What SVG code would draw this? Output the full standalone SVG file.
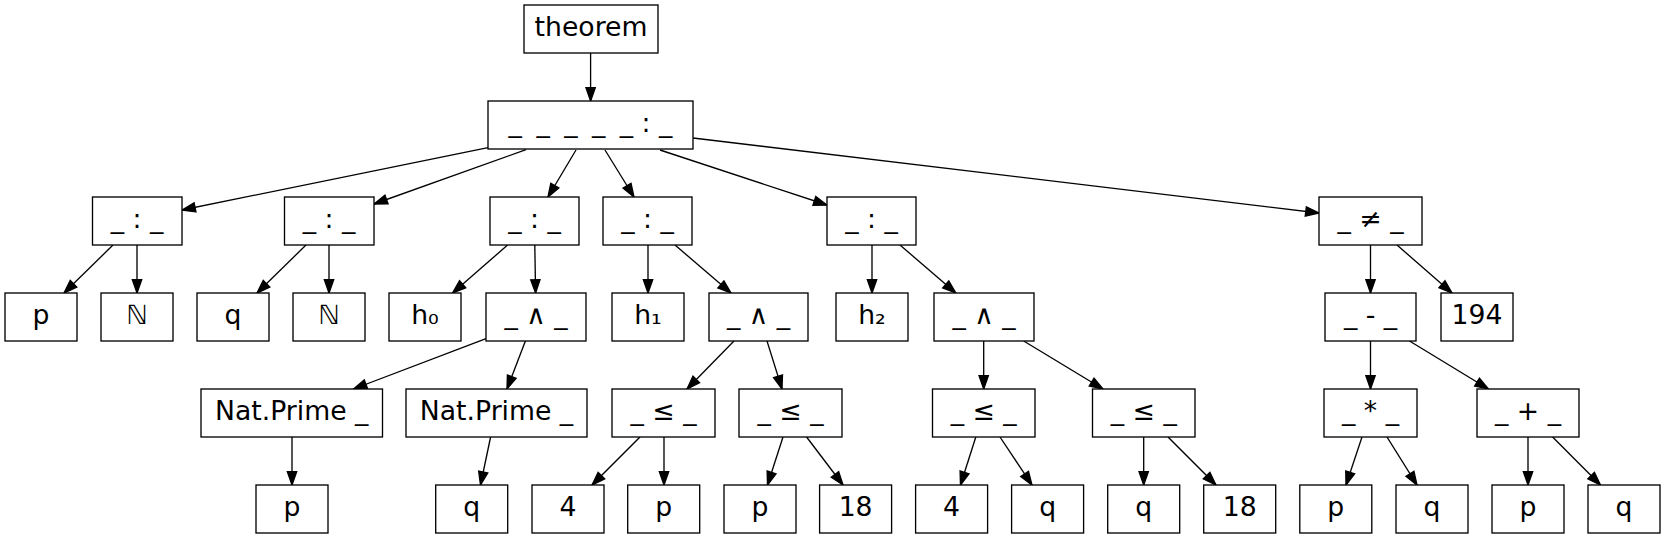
<svg xmlns="http://www.w3.org/2000/svg" width="1665" height="539" viewBox="0 0 1665 539">
<style>
.n rect{fill:#fff;stroke:#000;stroke-width:1.33}
.n text{font-family:"DejaVu Sans",sans-serif;font-size:26.67px;text-anchor:middle;fill:#000}
#edges line{stroke:#000;stroke-width:1.33}
</style>
<defs>
<marker id="ah" markerUnits="userSpaceOnUse" viewBox="0 -6 15 12" markerWidth="15" markerHeight="12" refX="13.3" refY="0" orient="auto" overflow="visible">
<polygon points="0,-4.67 13.3,0 0,4.67" fill="#000" stroke="#000" stroke-width="1.33"/>
</marker>
</defs>
<rect width="1665" height="539" fill="#fff"/>
<g id="edges" marker-end="url(#ah)">
<line x1="590.6" y1="53" x2="590.6" y2="101" marker-end="url(#ah)"/>
<line x1="488" y1="147.7" x2="182" y2="210" marker-end="url(#ah)"/>
<line x1="526" y1="149.7" x2="374" y2="204" marker-end="url(#ah)"/>
<line x1="576" y1="150" x2="548" y2="197" marker-end="url(#ah)"/>
<line x1="605" y1="150" x2="634" y2="197" marker-end="url(#ah)"/>
<line x1="660" y1="150" x2="827" y2="205" marker-end="url(#ah)"/>
<line x1="693" y1="138" x2="1319" y2="213" marker-end="url(#ah)"/>
<line x1="113" y1="245" x2="64" y2="293" marker-end="url(#ah)"/>
<line x1="137" y1="245" x2="137" y2="293" marker-end="url(#ah)"/>
<line x1="306" y1="245" x2="257" y2="293" marker-end="url(#ah)"/>
<line x1="329" y1="245" x2="329" y2="293" marker-end="url(#ah)"/>
<line x1="507.6" y1="245" x2="452.6" y2="293" marker-end="url(#ah)"/>
<line x1="534.8" y1="245" x2="535.6" y2="293" marker-end="url(#ah)"/>
<line x1="648" y1="245" x2="648" y2="293" marker-end="url(#ah)"/>
<line x1="675" y1="245" x2="731" y2="293" marker-end="url(#ah)"/>
<line x1="872" y1="245" x2="872" y2="293" marker-end="url(#ah)"/>
<line x1="900" y1="245" x2="955.8" y2="293" marker-end="url(#ah)"/>
<line x1="1370.5" y1="245" x2="1370.5" y2="293" marker-end="url(#ah)"/>
<line x1="1397" y1="245" x2="1452" y2="293" marker-end="url(#ah)"/>
<line x1="486" y1="338.7" x2="353.5" y2="389" marker-end="url(#ah)"/>
<line x1="525.4" y1="341" x2="507" y2="389" marker-end="url(#ah)"/>
<line x1="734" y1="341" x2="687" y2="389" marker-end="url(#ah)"/>
<line x1="767" y1="341" x2="782" y2="389" marker-end="url(#ah)"/>
<line x1="983.7" y1="341" x2="983.7" y2="389" marker-end="url(#ah)"/>
<line x1="1023.7" y1="341" x2="1103" y2="389" marker-end="url(#ah)"/>
<line x1="1370.5" y1="341" x2="1370.5" y2="389" marker-end="url(#ah)"/>
<line x1="1409.5" y1="341" x2="1488.4" y2="389" marker-end="url(#ah)"/>
<line x1="292" y1="437" x2="292" y2="485" marker-end="url(#ah)"/>
<line x1="490.6" y1="437" x2="480.5" y2="485" marker-end="url(#ah)"/>
<line x1="640" y1="437" x2="592" y2="485" marker-end="url(#ah)"/>
<line x1="664" y1="437" x2="664" y2="485" marker-end="url(#ah)"/>
<line x1="783" y1="437" x2="767.5" y2="485" marker-end="url(#ah)"/>
<line x1="806.6" y1="437" x2="843" y2="485" marker-end="url(#ah)"/>
<line x1="975.8" y1="437" x2="960.5" y2="485" marker-end="url(#ah)"/>
<line x1="1000" y1="437" x2="1032" y2="485" marker-end="url(#ah)"/>
<line x1="1143.7" y1="437" x2="1143.7" y2="485" marker-end="url(#ah)"/>
<line x1="1168" y1="437" x2="1216" y2="485" marker-end="url(#ah)"/>
<line x1="1362" y1="437" x2="1346" y2="485" marker-end="url(#ah)"/>
<line x1="1387" y1="437" x2="1417" y2="485" marker-end="url(#ah)"/>
<line x1="1528" y1="437" x2="1528" y2="485" marker-end="url(#ah)"/>
<line x1="1552.6" y1="437" x2="1600.5" y2="485" marker-end="url(#ah)"/>
</g>
<g id="theorem" class="n"><rect x="524" y="5" width="134" height="48"/><text x="591" y="36">theorem</text></g>
<g id="root" class="n"><rect x="488" y="101" width="205" height="48"/><text x="590.5" y="132"><tspan word-spacing="6">_ _ _ _ _</tspan> : _</text></g>
<g id="c1" class="n"><rect x="92.5" y="197" width="89.5" height="48"/><text x="137" y="228">_ : _</text></g>
<g id="c2" class="n"><rect x="284.5" y="197" width="89.5" height="48"/><text x="329" y="228">_ : _</text></g>
<g id="c3" class="n"><rect x="490" y="197" width="89" height="48"/><text x="534.5" y="228">_ : _</text></g>
<g id="c4" class="n"><rect x="603" y="197" width="89" height="48"/><text x="647.5" y="228">_ : _</text></g>
<g id="c5" class="n"><rect x="827" y="197" width="89" height="48"/><text x="871.5" y="228">_ : _</text></g>
<g id="ne" class="n"><rect x="1319" y="197" width="103" height="48"/><text x="1370.5" y="228">_ ≠ _</text></g>
<g id="p1" class="n"><rect x="5" y="293" width="72" height="48"/><text x="41" y="324">p</text></g>
<g id="nat1" class="n"><rect x="101" y="293" width="72" height="48"/><text x="137" y="324">ℕ</text></g>
<g id="q1" class="n"><rect x="197" y="293" width="72" height="48"/><text x="233" y="324">q</text></g>
<g id="nat2" class="n"><rect x="293" y="293" width="72" height="48"/><text x="329" y="324">ℕ</text></g>
<g id="h0" class="n"><rect x="389" y="293" width="72" height="48"/><text x="425" y="324">h₀</text></g>
<g id="and1" class="n"><rect x="486" y="293" width="100" height="48"/><text x="536" y="324">_ ∧ _</text></g>
<g id="h1" class="n"><rect x="612" y="293" width="72" height="48"/><text x="648" y="324">h₁</text></g>
<g id="and2" class="n"><rect x="709" y="293" width="99" height="48"/><text x="758.5" y="324">_ ∧ _</text></g>
<g id="h2" class="n"><rect x="836" y="293" width="72" height="48"/><text x="872" y="324">h₂</text></g>
<g id="and3" class="n"><rect x="934" y="293" width="100" height="48"/><text x="984" y="324">_ ∧ _</text></g>
<g id="minus" class="n"><rect x="1325" y="293" width="91" height="48"/><text x="1370.5" y="324">_ - _</text></g>
<g id="n194" class="n"><rect x="1441" y="293" width="72" height="48"/><text x="1477" y="324">194</text></g>
<g id="np1" class="n"><rect x="201" y="389" width="181.5" height="48"/><text x="291.7" y="420">Nat.Prime _</text></g>
<g id="np2" class="n"><rect x="406" y="389" width="181" height="48"/><text x="496.5" y="420">Nat.Prime _</text></g>
<g id="le1" class="n"><rect x="612" y="389" width="103" height="48"/><text x="663.5" y="420">_ ≤ _</text></g>
<g id="le2" class="n"><rect x="739" y="389" width="103" height="48"/><text x="790.5" y="420">_ ≤ _</text></g>
<g id="le3" class="n"><rect x="932.5" y="389" width="102.5" height="48"/><text x="983.7" y="420">_ ≤ _</text></g>
<g id="le4" class="n"><rect x="1092.5" y="389" width="102.5" height="48"/><text x="1143.8" y="420">_ ≤ _</text></g>
<g id="mul" class="n"><rect x="1324" y="389" width="93" height="48"/><text x="1370.5" y="420">_ * _</text></g>
<g id="add" class="n"><rect x="1477" y="389" width="102" height="48"/><text x="1528" y="420">_ + _</text></g>
<g id="l_p1" class="n"><rect x="256" y="485" width="72" height="48"/><text x="292" y="516">p</text></g>
<g id="l_q1" class="n"><rect x="435.7" y="485" width="72" height="48"/><text x="471.7" y="516">q</text></g>
<g id="l_41" class="n"><rect x="532" y="485" width="72" height="48"/><text x="568" y="516">4</text></g>
<g id="l_p2" class="n"><rect x="627.7" y="485" width="72" height="48"/><text x="663.7" y="516">p</text></g>
<g id="l_p3" class="n"><rect x="724" y="485" width="72" height="48"/><text x="760" y="516">p</text></g>
<g id="l_181" class="n"><rect x="819.6" y="485" width="72" height="48"/><text x="855.6" y="516">18</text></g>
<g id="l_42" class="n"><rect x="915.6" y="485" width="72" height="48"/><text x="951.6" y="516">4</text></g>
<g id="l_q2" class="n"><rect x="1011.6" y="485" width="72" height="48"/><text x="1047.6" y="516">q</text></g>
<g id="l_q3" class="n"><rect x="1107.7" y="485" width="72" height="48"/><text x="1143.7" y="516">q</text></g>
<g id="l_182" class="n"><rect x="1203.7" y="485" width="72" height="48"/><text x="1239.7" y="516">18</text></g>
<g id="l_p4" class="n"><rect x="1299.8" y="485" width="72" height="48"/><text x="1335.8" y="516">p</text></g>
<g id="l_q4" class="n"><rect x="1396" y="485" width="72" height="48"/><text x="1432" y="516">q</text></g>
<g id="l_p5" class="n"><rect x="1492" y="485" width="72" height="48"/><text x="1528" y="516">p</text></g>
<g id="l_q5" class="n"><rect x="1588" y="485" width="72" height="48"/><text x="1624" y="516">q</text></g>
</svg>
